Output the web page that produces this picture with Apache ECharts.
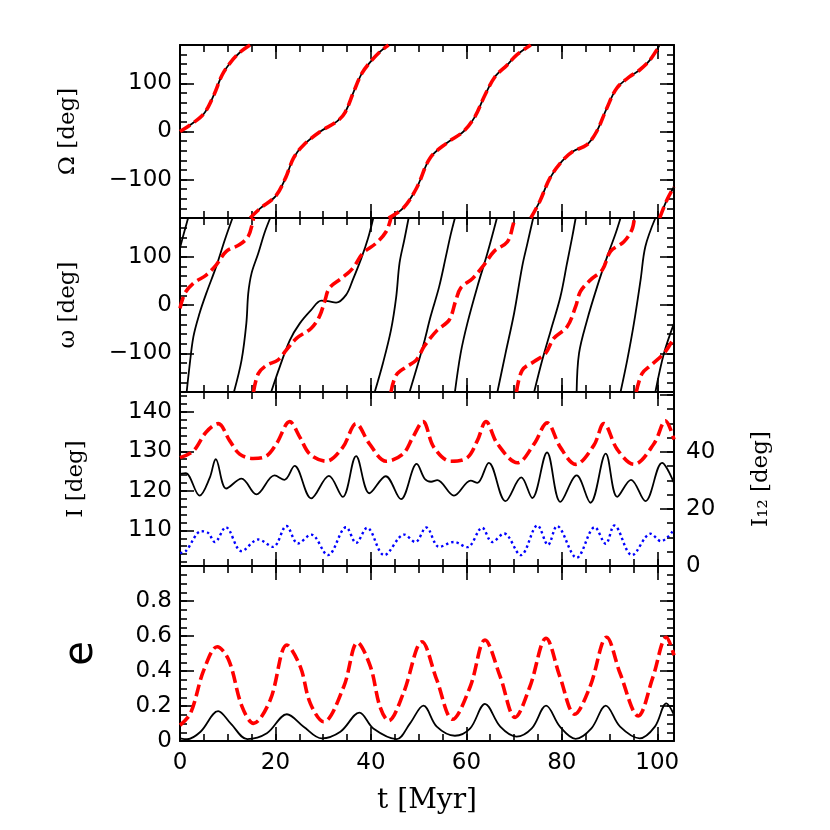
<!DOCTYPE html>
<html>
<head>
<meta charset="utf-8">
<title>orbital elements vs time</title>
<script src="https://cdn.jsdelivr.net/npm/echarts@6/dist/echarts.min.js"></script>
<style>
  html, body { margin: 0; padding: 0; background: #fff; }
  #chart { width: 830px; height: 830px; }
</style>
</head>
<body>
<div id="chart"></div>
<script>
// ---- data (t in Myr) ----
// null entries break the line where the angle wraps from 180 to -180
var tMax = 103.5;
var tTicks = [0, 20, 40, 60, 80, 100];
var angTicks = [-100, 0, 100];
var inclTicks = [110, 120, 130, 140];
var i12Ticks = [0, 20, 40];
var eccTicks = [0, 0.2, 0.4, 0.6, 0.8];

// Omega (node), black and red lie on top of each other
var nodeLong = [
  [0, 0], [2.2, 14], [5.0, 37], [7.1, 76], [8.8, 117], [10.6, 144], [12.7, 166], [14.7, 180], [14.7, null],
  [14.7, -180], [16.8, -160], [20.0, -135], [22.1, -97], [23.8, -55], [25.9, -28], [29.4, 0], [32.9, 21],
  [34.6, 40], [36.4, 83], [38.1, 121], [39.9, 145], [41.9, 166], [43.7, 180], [43.7, null],
  [43.7, -180], [46.8, -159], [49.6, -117], [52.4, -55], [55.9, -24], [59.4, 0], [61.8, 31], [63.9, 76],
  [66.0, 114], [68.5, 138], [70.5, 159], [73.5, 180], [73.5, null],
  [73.5, -180], [75.4, -145], [77.5, -97], [80.0, -62], [82.4, -41], [85.2, -28], [87.3, 0], [89.4, 48],
  [91.5, 90], [94.2, 114], [96.3, 128], [98.4, 148], [100.5, 180], [100.5, null],
  [100.5, -180], [101.9, -145], [103.5, -115]
];

// omega (pericentre), black solid
var periBlack = [
  [0, 118], [0.8, 148], [1.7, 180], [1.5, null],
  [1.4, -180], [1.9, -135], [2.8, -66], [4.1, -17], [5.5, 24], [7.6, 80], [9.4, 135], [11.0, 180], [11.1, null],
  [11.3, -180], [12.9, -114], [13.9, -38], [14.3, 24], [15.0, 66], [16.4, 107], [17.7, 149], [18.9, 180], [19.0, null],
  [19.1, -180], [20.9, -128], [23.0, -73], [25.1, -38], [27.5, -10], [29.6, 9], [31.0, 8], [32.7, 5], [34.8, 21],
  [36.2, 52], [38.0, 97], [39.4, 138], [40.5, 180], [40.6, null],
  [40.8, -180], [42.5, -121], [44.2, -52], [45.3, 17], [46.0, 87], [47.0, 135], [47.9, 180], [48.0, null],
  [48.1, -180], [50.9, -86], [52.5, -24], [54.3, 38], [55.7, 100], [56.7, 145], [57.6, 180], [57.6, null],
  [57.6, -180], [58.8, -100], [60.2, -38], [62.3, 38], [64.4, 107], [66.4, 180], [66.4, null],
  [66.5, -180], [68.2, -100], [70.0, -17], [71.7, 80], [72.8, 128], [74.0, 180], [74.1, null],
  [74.2, -180], [75.9, -114], [77.7, -52], [79.7, 17], [81.1, 87], [82.2, 142], [82.9, 180], [83.0, null],
  [83.1, -180], [83.6, -100], [85.3, -31], [87.4, 38], [89.5, 100], [91.3, 149], [92.3, 180], [92.3, null],
  [92.3, -180], [93.7, -114], [95.1, -38], [96.5, 52], [97.5, 121], [99.6, 180], [99.6, null],
  [99.6, -180], [101.4, -100], [103.5, -38]
];

// omega (pericentre), red dashed
var periRed = [
  [0, -7], [1.0, 24], [2.8, 45], [5.5, 62], [7.6, 83], [9.7, 111], [12.5, 125], [14.3, 142], [15.2, 170], [15.4, 180], [15.4, null],
  [15.4, -180], [16.4, -142], [18.1, -125], [20.5, -114], [22.3, -93], [24.4, -69], [27.5, -48], [29.2, -24],
  [30.3, 7], [31.3, 35], [33.8, 55], [36.2, 76], [38.3, 107], [41.1, 128], [43.2, 152], [44.2, 180], [44.2, null],
  [44.2, -180], [45.3, -145], [47.4, -128], [49.5, -114], [51.2, -85], [53.9, -52], [56.4, -31], [57.8, 10],
  [58.8, 35], [61.3, 55], [63.7, 83], [65.8, 111], [68.6, 131], [69.8, 166], [70.1, 180], [70.3, null],
  [70.5, -180], [71.7, -135], [74.2, -117], [76.6, -100], [78.3, -69], [81.1, -45], [82.9, -3], [83.9, 28],
  [86.0, 52], [88.5, 73], [90.2, 111], [93.0, 131], [94.7, 156], [95.2, 180], [95.4, null],
  [95.6, -180], [96.8, -142], [98.6, -125], [101.4, -100], [103.5, -68]
];

// inclination I [deg], left axis
var inclRed = [
  [0, 128.4], [2.8, 130.1], [5.5, 134.9], [8.0, 137.0], [10.4, 132.7], [12.5, 129.3], [15.3, 128.2], [18.1, 128.8],
  [20.2, 131.9], [23.0, 137.5], [25.1, 133.6], [27.2, 129.3], [30.6, 127.5], [34.1, 131.0], [36.9, 137.0],
  [39.7, 131.9], [43.2, 127.5], [46.7, 129.3], [48.8, 133.6], [50.9, 137.5], [53.2, 131.0], [56.7, 127.5],
  [60.2, 128.4], [62.3, 132.7], [64.1, 137.5], [66.5, 131.9], [70.7, 127.1], [74.2, 131.9], [76.9, 137.2],
  [79.7, 131.0], [82.9, 126.7], [86.7, 131.5], [88.8, 137.0], [91.6, 130.5], [95.1, 126.7], [99.3, 131.9],
  [101.7, 137.7], [103.5, 133.0]
];
var inclBlack = [
  [0, 124.3], [1.2, 124.5], [4.1, 118.8], [6.2, 123.2], [7.5, 128.0], [9.7, 120.6], [12.9, 123.1], [16.0, 119.1],
  [19.8, 123.9], [21.9, 122.8], [24.0, 126.3], [27.5, 118.1], [31.2, 123.8], [34.1, 118.5], [36.9, 128.8],
  [39.7, 119.4], [43.1, 123.7], [46.3, 117.9], [49.6, 126.8], [51.3, 123.0], [52.6, 122.3], [53.9, 122.7],
  [57.4, 118.8], [60.9, 122.6], [62.3, 122.0], [64.7, 127.1], [68.2, 117.4], [71.5, 123.4], [73.8, 118.2],
  [76.9, 129.7], [79.7, 117.2], [83.1, 123.9], [86.0, 117.0], [89.2, 129.4], [91.6, 118.5], [94.5, 122.8],
  [97.5, 117.4], [101.0, 127.1], [103.5, 122.0]
];
// mutual inclination I12 [deg], right axis
var incl12 = [
  [0, 4.5], [1.2, 5.2], [4.5, 12.2], [5.9, 11.6], [7.3, 8.4], [9.6, 13.6], [12.9, 5.2], [16.4, 9.3], [19.5, 6.7],
  [22.3, 14.0], [24.7, 7.9], [27.5, 11.0], [31.0, 3.8], [34.8, 13.6], [36.9, 8.1], [39.2, 13.4], [42.8, 3.8],
  [47.0, 11.0], [49.3, 8.4], [51.6, 13.5], [54.3, 6.7], [57.4, 8.4], [60.2, 6.6], [63.3, 13.4], [65.4, 8.4],
  [67.9, 11.4], [71.4, 3.8], [74.9, 14.2], [77.1, 7.4], [79.0, 14.0], [83.1, 2.9], [86.9, 13.6], [89.2, 7.8],
  [91.0, 14.2], [94.7, 3.8], [98.6, 11.3], [100.8, 8.7], [103.5, 12.8]
];

// eccentricity
var eccRed = [
  [0, 0.09], [2.2, 0.158], [5.0, 0.406], [7.8, 0.539], [10.2, 0.463], [13.0, 0.196], [15.4, 0.101], [18.9, 0.234],
  [22.4, 0.549], [25.2, 0.425], [27.3, 0.215], [30.1, 0.11], [34.3, 0.31], [37.2, 0.562], [39.9, 0.425],
  [41.9, 0.196], [43.7, 0.116], [46.8, 0.273], [50.7, 0.567], [53.8, 0.349], [57.1, 0.124], [60.8, 0.31],
  [63.9, 0.577], [67.1, 0.367], [70.2, 0.135], [73.3, 0.31], [76.7, 0.587], [79.6, 0.367], [82.7, 0.153],
  [85.9, 0.31], [89.4, 0.593], [92.2, 0.387], [96.0, 0.143], [99.1, 0.367], [101.9, 0.593], [103.5, 0.49]
];
var eccBlack = [
  [0, 0.015], [1.5, 0.01], [4.3, 0.053], [8.0, 0.171], [10.6, 0.101], [14.1, 0.011], [18.2, 0.044], [22.4, 0.153],
  [25.9, 0.082], [29.7, 0.015], [33.6, 0.053], [37.6, 0.162], [40.5, 0.072], [45.4, 0.011], [48.2, 0.101],
  [51.0, 0.202], [53.8, 0.082], [57.6, 0.03], [60.8, 0.072], [63.9, 0.212], [67.1, 0.082], [70.5, 0.025],
  [73.7, 0.072], [76.7, 0.202], [79.6, 0.082], [82.9, 0.012], [86.2, 0.072], [89.2, 0.202], [92.2, 0.082],
  [96.3, 0.015], [99.5, 0.082], [101.9, 0.215], [103.5, 0.15]
];

// ---- layout ----
var FONT = 'DejaVu Sans';
var SERIF = 'DejaVu Serif';
var chart = echarts.init(document.getElementById('chart'));

var grids = [
  { left: 180, width: 494, top: 45, height: 173 },
  { left: 180, width: 494, top: 218, height: 174 },
  { left: 180, width: 494, top: 392, height: 174 },
  { left: 180, width: 494, top: 566, height: 175 }
];

function steps(from, to, step) {
  var out = [];
  for (var v = from; v <= to + 1e-9; v += step) out.push(Math.round(v * 1000) / 1000);
  return out;
}

function fmtNum(v) {
  if (v < 0) return '\u2212' + Math.abs(v);
  return String(v);
}
function fmtEcc(v) {
  return v === 0 ? '0' : v.toFixed(1);
}

// major axis (frame line, long ticks, labels) + minor axis (short ticks)
function axisPair(gi, pos, min, max, majors, minors, labels, fmt, extra, margin) {
  var base = { type: 'value', gridIndex: gi, position: pos, min: min, max: max, splitLine: { show: false } };
  var major = Object.assign({}, base, {
    axisLine: { show: true, onZero: false, lineStyle: { color: '#000', width: 2 } },
    axisTick: { show: true, inside: true, length: 14, customValues: majors, lineStyle: { color: '#000', width: 1.6 } },
    axisLabel: labels ? { show: true, customValues: labels, formatter: fmt, color: '#000', fontSize: 23,
      fontFamily: FONT, margin: margin || 8 } : { show: false }
  }, extra || {});
  var minor = Object.assign({}, base, {
    axisLine: { show: false, onZero: false },
    axisTick: { show: true, inside: true, length: 7, customValues: minors, lineStyle: { color: '#000', width: 1.6 } },
    axisLabel: { show: false }
  });
  return [major, minor];
}

var nameStyle = { color: '#000', fontSize: 23, fontFamily: SERIF };
var xAxes = [], yAxes = [];
var leftNames = ['\u03A9 [deg]', '\u03C9 [deg]', 'I [deg]', 'e'];
var leftGaps = [100, 100, 92, 78];

for (var g = 0; g < 4; g++) {
  var xExtra = null;
  if (g === 3) {
    xExtra = { name: 't [Myr]', nameLocation: 'middle', nameGap: 46, nameTextStyle: { color: '#000', fontSize: 28, fontFamily: SERIF } };
  }
  xAxes = xAxes.concat(
    axisPair(g, 'bottom', 0, tMax, tTicks, steps(0, 100, 5), g === 3 ? tTicks : null, fmtNum, xExtra, 11),
    axisPair(g, 'top', 0, tMax, tTicks, steps(0, 100, 5), null)
  );

  var nameOpt = {
    name: leftNames[g], nameLocation: 'middle', nameRotate: 90, nameGap: leftGaps[g],
    nameTextStyle: g === 3 ? { color: '#000', fontSize: 40, fontFamily: FONT } : nameStyle
  };
  if (g < 2) {
    yAxes = yAxes.concat(
      axisPair(g, 'left', -180, 180, angTicks, steps(-180, 180, 20), angTicks, fmtNum, nameOpt),
      axisPair(g, 'right', -180, 180, angTicks, steps(-180, 180, 20), null)
    );
  } else if (g === 2) {
    yAxes = yAxes.concat(
      axisPair(g, 'left', 101, 145, inclTicks, steps(102, 144, 2), inclTicks, fmtNum, nameOpt),
      axisPair(g, 'right', 0, 61, [0, 20, 40, 60], steps(0, 60, 5), i12Ticks, fmtNum, {
        name: 'I\u2081\u2082 [deg]', nameLocation: 'middle', nameRotate: 90, nameGap: 76, nameTextStyle: nameStyle
      }, 12)
    );
  } else {
    yAxes = yAxes.concat(
      axisPair(g, 'left', 0, 1, eccTicks, steps(0, 1, 0.05), eccTicks, fmtEcc, nameOpt),
      axisPair(g, 'right', 0, 1, eccTicks, steps(0, 1, 0.05), null)
    );
  }
}

function black(gi, data) {
  return { type: 'line', xAxisIndex: gi * 4, yAxisIndex: gi * 4, data: data, showSymbol: false, smooth: 0.35,
    lineStyle: { color: '#000', width: 1.8 }, z: 3 };
}
function red(gi, data) {
  return { type: 'line', xAxisIndex: gi * 4, yAxisIndex: gi * 4, data: data, showSymbol: false, smooth: 0.35,
    lineStyle: { color: '#ff0000', width: 3.6, type: [12, 5] }, z: 4 };
}

var series = [
  black(0, nodeLong), red(0, nodeLong),
  black(1, periBlack), red(1, periRed),
  red(2, inclRed), black(2, inclBlack),
  { type: 'line', xAxisIndex: 8, yAxisIndex: 10, data: incl12, showSymbol: false, smooth: 0.35,
    lineStyle: { color: '#0000ff', width: 2.4, type: [2.4, 3] }, z: 3 },
  red(3, eccRed), black(3, eccBlack)
];

chart.setOption({
  animation: false,
  backgroundColor: '#fff',
  grid: grids,
  xAxis: xAxes,
  yAxis: yAxes,
  series: series
});
window.addEventListener('resize', function() {
  chart.resize();
});
</script>
</body>
</html>
